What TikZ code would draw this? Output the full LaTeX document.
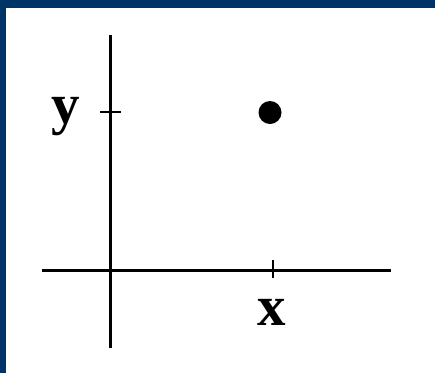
\documentclass[tikz,border=0pt]{standalone}
\usepackage{fontspec}
\setmainfont{Liberation Serif}
\definecolor{frameblue}{RGB}{0,51,102}
\begin{document}
\begin{tikzpicture}[x=1pt,y=-1pt,
  axis/.style={line width=2.7pt},
  tickmark/.style={line width=2.5pt},
  lbl/.style={inner sep=0pt,anchor=base,font=\fontsize{57}{60}\selectfont\bfseries},
  dotmark/.style={circle,fill=black,inner sep=0pt,minimum size=23pt}]
\useasboundingbox (0,0) rectangle (435,373);
\fill[white] (0,0) rectangle (435,373);
\fill[frameblue] (0,0) rectangle (435,7.5);
\fill[frameblue] (0,0) rectangle (6,373);
\coordinate (ytop) at (110.5,35);
\coordinate (ybot) at (110.5,348);
\coordinate (xl) at (42,270.5);
\coordinate (xr) at (391,270.5);
\coordinate (yt1) at (100,112);
\coordinate (yt2) at (121,112);
\coordinate (xt1) at (273,260);
\coordinate (xt2) at (273,278);
\draw[axis] (ytop) -- (ybot);
\draw[axis] (xl) -- (xr);
\draw[tickmark] (yt1) -- (yt2);
\draw[tickmark] (xt1) -- (xt2);
\node[dotmark] (pt) at (270,112.5) {};
\node[lbl] (ylab) at (66,123) {y};
\node[lbl] (xlab) at (272,325) {x};
\end{tikzpicture}
\end{document}
